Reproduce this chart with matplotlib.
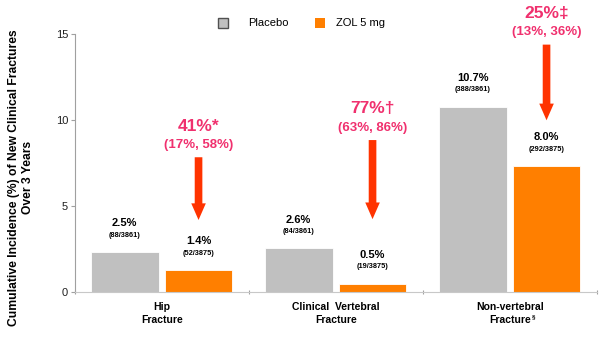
import matplotlib
matplotlib.use("Agg")
import matplotlib.pyplot as plt
from matplotlib.patches import Rectangle
from matplotlib.transforms import blended_transform_factory, offset_copy

category_line1 = ["Hip", "Clinical  Vertebral", "Non-vertebral"]
category_line2 = ["Fracture", "Fracture", "Fracture"]
category_notes = ["", "", "\u00a7"]
placebo_heights = [2.35, 2.55, 10.8]
zol_heights = [1.3, 0.5, 7.35]
placebo_pct = ["2.5%", "2.6%", "10.7%"]
placebo_n = ["(88/3861)", "(84/3861)", "(388/3861)"]
zol_pct = ["1.4%", "0.5%", "8.0%"]
zol_n = ["(52/3875)", "(19/3875)", "(292/3875)"]
reduction = ["41%*", "77%\u2020", "25%\u2021"]
ci = ["(17%, 58%)", "(63%, 86%)", "(13%, 36%)"]
arrow_start = [7.85, 8.85, 14.4]
arrow_end = [4.2, 4.25, 10.0]
yticks = [0, 5, 10, 15]

plt.rcParams['font.family'] = ['Liberation Sans', 'DejaVu Sans']

GREY = "#C0C0C0"
ORANGE = "#FF7F00"
ARROW = "#FF3300"
PINK = "#F0306E"

fig = plt.figure(figsize=(6.0, 3.43), dpi=100)
ax = fig.add_axes([0.125, 0.148, 0.87, 0.752])

w = 0.39
px = [i + 0.285 for i in range(3)]
zx = [i + 0.71 for i in range(3)]
ax.bar(px, placebo_heights, width=w, color=GREY, edgecolor="white", linewidth=0.6, zorder=2)
ax.bar(zx, zol_heights, width=w, color=ORANGE, edgecolor="white", linewidth=0.6, zorder=2)

for i in range(3):
    ax.annotate(placebo_pct[i], (px[i], placebo_heights[i]), xytext=(0, 17), textcoords="offset points",
                ha="center", va="bottom", fontsize=8, fontweight="bold")
    ax.annotate(placebo_n[i], (px[i], placebo_heights[i]), xytext=(0, 9.5), textcoords="offset points",
                ha="center", va="bottom", fontsize=5.3, fontweight="bold")
    ax.annotate(zol_pct[i], (zx[i], zol_heights[i]), xytext=(0, 17), textcoords="offset points",
                ha="center", va="bottom", fontsize=8, fontweight="bold")
    ax.annotate(zol_n[i], (zx[i], zol_heights[i]), xytext=(0, 9.5), textcoords="offset points",
                ha="center", va="bottom", fontsize=5.3, fontweight="bold")
    ax.annotate("", xy=(zx[i], arrow_end[i]), xytext=(zx[i], arrow_start[i]),
                arrowprops=dict(arrowstyle="simple,head_length=1.2,head_width=1.05,tail_width=0.55",
                                color=ARROW, lw=0, shrinkA=0, shrinkB=0), zorder=3,
                annotation_clip=False)
    ax.annotate(reduction[i], (zx[i], arrow_start[i]), xytext=(0, 17), textcoords="offset points",
                ha="center", va="bottom", fontsize=12.5, fontweight="bold", color=PINK,
                annotation_clip=False)
    ax.annotate(ci[i], (zx[i], arrow_start[i]), xytext=(0, 4.5), textcoords="offset points",
                ha="center", va="bottom", fontsize=9.5, fontweight="bold", color=PINK,
                annotation_clip=False)

ax.set_xlim(0, 3)
ax.set_ylim(0, 15)
ax.set_yticks(yticks)
ax.set_yticklabels([str(t) for t in yticks], fontsize=8, color="#202020")
ax.set_xticks([0, 1, 2, 3])
ax.set_xticklabels([])
ax.tick_params(axis="x", which="major", length=3, color="#A0A0A0", direction="inout")
ax.tick_params(axis="y", length=3, color="#A0A0A0", pad=2)
for s in ["top", "right"]:
    ax.spines[s].set_visible(False)
ax.spines["left"].set_color("#A0A0A0")
ax.spines["bottom"].set_color("#C8C8C8")

# category labels (two lines each)
trans = blended_transform_factory(ax.transData, ax.transAxes)
t1 = offset_copy(trans, fig=fig, x=0, y=-15, units="dots")
t2 = offset_copy(trans, fig=fig, x=0, y=-28, units="dots")
for i in range(3):
    ax.text(i + 0.5, 0, category_line1[i], transform=t1, ha="center", va="center",
            fontsize=7.5, fontweight="bold")
    txt = ax.text(i + 0.5, 0, category_line2[i], transform=t2, ha="center", va="center",
                  fontsize=7.5, fontweight="bold")
    if category_notes[i]:
        fig.canvas.draw()
        bb = txt.get_window_extent(fig.canvas.get_renderer())
        fig.text((bb.x1 + 1.0) / fig.bbox.width, (bb.y1 - 4) / fig.bbox.height, category_notes[i],
                 fontsize=4.5, fontweight="bold", ha="left", va="bottom")

fig.text(0.035, 0.483, "Cumulative Incidence (%) of New Clinical Fractures\nOver 3 Years",
         rotation=90, ha="center", va="center", fontsize=8.7, fontweight="bold", linespacing=1.3)

# legend
fig.patches.append(Rectangle((218 / 600, 1 - 28 / 343), 10 / 600, 10 / 343, transform=fig.transFigure,
                             facecolor=GREY, edgecolor="#505050", linewidth=1))
fig.text(248 / 600, 1 - 23 / 343, "Placebo", fontsize=8, va="center", ha="left")
fig.patches.append(Rectangle((315 / 600, 1 - 28 / 343), 10 / 600, 10 / 343, transform=fig.transFigure,
                             facecolor=ORANGE, edgecolor=ORANGE, linewidth=0))
fig.text(336 / 600, 1 - 23 / 343, "ZOL 5 mg", fontsize=8, va="center", ha="left")

fig.savefig("out.png", dpi=100)
